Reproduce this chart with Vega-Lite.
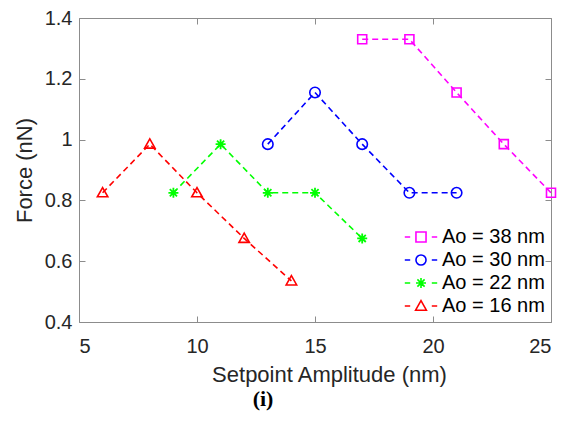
{
  "$schema": "https://vega.github.io/schema/vega-lite/v6.json",
  "width": 472,
  "height": 304,
  "autosize": {"type": "none"},
  "padding": {"left": 79, "top": 18, "right": 10, "bottom": 101},
  "background": "white",
  "config": {
    "view": {"stroke": "#8c8c8c", "strokeWidth": 1},
    "font": "Liberation Sans",
    "axis": {
      "grid": false,
      "domain": false,
      "tickColor": "#8c8c8c",
      "tickSize": -6,
      "tickWidth": 1,
      "labelFont": "Liberation Sans",
      "labelFontSize": 20,
      "labelColor": "#262626",
      "titleFont": "Liberation Sans",
      "titleFontSize": 22,
      "titleFontWeight": "normal",
      "titleColor": "#262626"
    },
    "legend": {
      "title": null,
      "orient": "bottom-right",
      "offset": 6,
      "padding": 0,
      "labelFont": "Liberation Sans",
      "labelFontSize": 20,
      "labelColor": "#000000",
      "labelOffset": 8,
      "symbolSize": 576,
      "symbolStrokeWidth": 1.6,
      "symbolFillColor": "transparent",
      "rowPadding": 0
    }
  },
  "title": {
    "text": "(i)",
    "orient": "bottom",
    "anchor": "middle",
    "font": "Liberation Serif",
    "fontWeight": "bold",
    "fontSize": 22,
    "color": "#000000",
    "offset": 4,
    "dx": -52
  },
  "data": {
    "values": [
      {"series": "Ao = 38 nm", "amp": 17, "force": 1.33},
      {"series": "Ao = 38 nm", "amp": 19, "force": 1.33},
      {"series": "Ao = 38 nm", "amp": 21, "force": 1.155},
      {"series": "Ao = 38 nm", "amp": 23, "force": 0.985},
      {"series": "Ao = 38 nm", "amp": 25, "force": 0.825},
      {"series": "Ao = 30 nm", "amp": 13, "force": 0.985},
      {"series": "Ao = 30 nm", "amp": 15, "force": 1.155},
      {"series": "Ao = 30 nm", "amp": 17, "force": 0.985},
      {"series": "Ao = 30 nm", "amp": 19, "force": 0.825},
      {"series": "Ao = 30 nm", "amp": 21, "force": 0.825},
      {"series": "Ao = 22 nm", "amp": 9, "force": 0.825},
      {"series": "Ao = 22 nm", "amp": 11, "force": 0.985},
      {"series": "Ao = 22 nm", "amp": 13, "force": 0.825},
      {"series": "Ao = 22 nm", "amp": 15, "force": 0.825},
      {"series": "Ao = 22 nm", "amp": 17, "force": 0.675},
      {"series": "Ao = 16 nm", "amp": 6, "force": 0.825},
      {"series": "Ao = 16 nm", "amp": 8, "force": 0.985},
      {"series": "Ao = 16 nm", "amp": 10, "force": 0.825},
      {"series": "Ao = 16 nm", "amp": 12, "force": 0.675},
      {"series": "Ao = 16 nm", "amp": 14, "force": 0.535}
    ]
  },
  "resolve": {"axis": {"x": "independent", "y": "independent"}},
  "layer": [
    {
      "mark": {"type": "line", "strokeDash": [6, 4], "strokeWidth": 1.6},
      "encoding": {
        "x": {"field": "amp", "type": "quantitative", "scale": {"domain": [5, 25], "nice": false, "zero": false},
          "axis": {"orient": "bottom", "values": [5, 10, 15, 20, 25], "title": "Setpoint Amplitude (nm)", "labelPadding": 20, "titlePadding": 8, "titleX": 250}},
        "y": {"field": "force", "type": "quantitative", "scale": {"domain": [0.4, 1.4], "nice": false, "zero": false},
          "axis": {"orient": "left", "values": [0.4, 0.6, 0.8, 1, 1.2, 1.4], "title": "Force (nN)", "labelPadding": 13, "titlePadding": 8, "labelExpr": "datum.value == 1 ? '1' : format(datum.value, '.1f')"}},
        "color": {"field": "series", "type": "nominal",
          "scale": {"domain": ["Ao = 38 nm", "Ao = 30 nm", "Ao = 22 nm", "Ao = 16 nm"], "range": ["#ff00ff", "#0000ff", "#00ff00", "#ff0000"]},
          "legend": {
            "encode": {
              "symbols": {
                "update": {
                  "fill": {"value": "transparent"},
                  "strokeDash": {"value": []},
                  "shape": {"signal": "datum.value == 'Ao = 38 nm' ? 'M-1.35,0H-0.9M-0.42,-0.42H0.42V0.42H-0.42ZM0.9,0H1.35' : datum.value == 'Ao = 30 nm' ? 'M-1.35,0H-0.9M0.42,0A0.42,0.42,0,1,1,-0.42,0A0.42,0.42,0,1,1,0.42,0M0.9,0H1.35' : datum.value == 'Ao = 22 nm' ? 'M-1.35,0H-0.9M-0.42,0H0.42M0,-0.42V0.42M-0.3,-0.3L0.3,0.3M-0.3,0.3L0.3,-0.3M0.9,0H1.35' : 'M-1.35,0H-0.9M0,-0.45L0.45,0.35H-0.45ZM0.9,0H1.35'"}
                }
              }
            }
          }
        },
        "detail": {"field": "series"}
      }
    },
    {
      "transform": [{"filter": "datum.series == 'Ao = 38 nm'"}],
      "mark": {"type": "point", "filled": false, "strokeWidth": 1.6, "size": 100, "opacity": 1, "shape": "M-0.9,-0.9H0.9V0.9H-0.9Z", "color": "#ff00ff"},
      "encoding": {
        "x": {"field": "amp", "type": "quantitative", "scale": {"domain": [5, 25], "nice": false, "zero": false},
          "axis": {"orient": "top", "values": [5, 10, 15, 20, 25], "labels": false, "title": null}},
        "y": {"field": "force", "type": "quantitative", "scale": {"domain": [0.4, 1.4], "nice": false, "zero": false},
          "axis": {"orient": "right", "values": [0.4, 0.6, 0.8, 1, 1.2, 1.4], "labels": false, "title": null}}
      }
    },
    {
      "transform": [{"filter": "datum.series == 'Ao = 30 nm'"}],
      "mark": {"type": "point", "filled": false, "strokeWidth": 1.6, "size": 110, "opacity": 1, "shape": "circle", "color": "#0000ff"},
      "encoding": {
        "x": {"field": "amp", "type": "quantitative", "axis": null},
        "y": {"field": "force", "type": "quantitative", "axis": null}
      }
    },
    {
      "transform": [{"filter": "datum.series == 'Ao = 22 nm'"}],
      "mark": {"type": "point", "filled": false, "strokeWidth": 1.8, "size": 100, "opacity": 1, "shape": "M-1,0H1M0,-1V1M-0.72,-0.72L0.72,0.72M-0.72,0.72L0.72,-0.72", "color": "#00ff00"},
      "encoding": {
        "x": {"field": "amp", "type": "quantitative", "axis": null},
        "y": {"field": "force", "type": "quantitative", "axis": null}
      }
    },
    {
      "transform": [{"filter": "datum.series == 'Ao = 16 nm'"}],
      "mark": {"type": "point", "filled": false, "strokeWidth": 1.6, "size": 100, "opacity": 1, "shape": "M0,-1.05L1.05,0.8H-1.05Z", "color": "#ff0000"},
      "encoding": {
        "x": {"field": "amp", "type": "quantitative", "axis": null},
        "y": {"field": "force", "type": "quantitative", "axis": null}
      }
    }
  ]
}
